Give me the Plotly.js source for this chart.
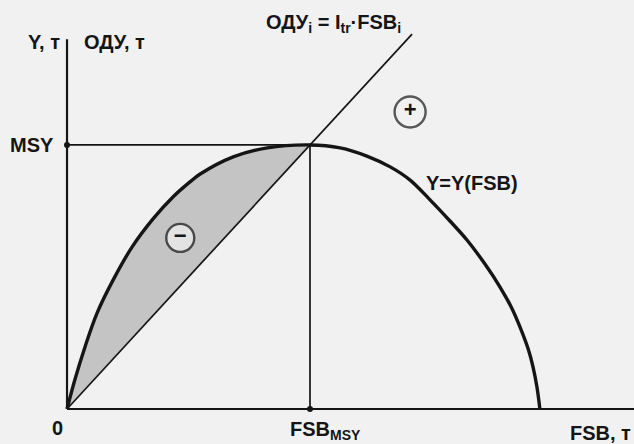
<!DOCTYPE html>
<html>
<head>
<meta charset="utf-8">
<script src="https://cdn.plot.ly/plotly-3.0.1.min.js"></script>
<style>
  html, body { margin: 0; padding: 0; background: #f1f1f1; }
  #chart { width: 634px; height: 444px; }
</style>
</head>
<body>
<div id="chart"></div>
<script>
// Surplus production curve Y = Y(FSB) (yield vs. fishable stock biomass)
const fsb = [0, 1.6, 3.7, 6.2, 9.5, 13.4, 17.7, 21.8, 25.3, 27.4, 34.2, 41.2, 50,
             56.2, 61.7, 66.5, 70.6, 74.7, 78.8, 82.3, 86.0, 89.1, 91.6, 93.2, 94.9, 95.9, 96.7, 97.3];
const yieldY = [0, 11.0, 23.5, 36.4, 48.9, 61.4, 72.0, 80.3, 86.0, 89.0, 95.5, 98.9, 100,
                98.9, 95.8, 91.7, 86.7, 79.2, 71.2, 64.0, 54.9, 46.2, 37.9, 31.1, 22.7, 15.9, 8.3, 0];

// Reference point and catch line ОДУ = I_tr · FSB
const MSY = 100;
const FSB_MSY = 50;
const I_TR = MSY / FSB_MSY;
const lineFsb = [0, 71];
const lineOdu = lineFsb.map(v => v * I_TR);

// Axis extents
const X_END = 117;
const Y_TOP = 140;

// Left branch of the curve (up to FSB_MSY), used for the shaded region
const leftIdx = fsb.findIndex(v => v === FSB_MSY);
const leftX = fsb.slice(0, leftIdx + 1);
const leftY = yieldY.slice(0, leftIdx + 1);

const ink = '#151515';
const paper = '#f1f1f1';
const font = { family: 'Arial, "Liberation Sans", sans-serif', size: 20, color: ink, weight: 'bold' };

const traces = [
  {
    // lower edge of the shaded region: the catch line up to FSB_MSY
    x: [0, FSB_MSY], y: [0, FSB_MSY * I_TR], mode: 'lines',
    line: { width: 0 }, hoverinfo: 'skip'
  },
  {
    x: leftX, y: leftY, mode: 'lines', fill: 'tonexty',
    fillcolor: '#c4c4c4', line: { width: 0, shape: 'spline', smoothing: 1 },
    hoverinfo: 'skip'
  },
  {
    x: lineFsb, y: lineOdu, mode: 'lines',
    line: { color: ink, width: 1.7 }
  },
  {
    x: fsb, y: yieldY, mode: 'lines',
    line: { color: ink, width: 3.4, shape: 'spline', smoothing: 1 }
  },
  {
    x: [0, FSB_MSY], y: [MSY, 0], mode: 'markers',
    marker: { color: ink, size: 6 }
  },
  {
    // sign markers for the surplus (+) and deficit (−) zones
    x: [70.6, 23.3], y: [112.5, 64.8], mode: 'markers+text',
    text: ['+', '−'], textposition: 'middle center',
    textfont: { family: font.family, size: 22, color: ink, weight: 'bold' },
    marker: { symbol: 'circle', size: [31, 28], color: paper, line: { width: 2.4, color: ink } }
  }
];

const line = (x0, y0, x1, y1, w) => ({
  type: 'line', xref: 'x', yref: 'y', x0, y0, x1, y1,
  line: { color: ink, width: w }, layer: 'above'
});

const ann = (x, y, text, xanchor) => ({
  x, y, xref: 'x', yref: 'y', text, showarrow: false,
  xanchor: xanchor || 'center', yanchor: 'middle', font
});

const layout = {
  width: 634, height: 444,
  margin: { l: 0, r: 0, t: 0, b: 0 },
  paper_bgcolor: paper, plot_bgcolor: paper,
  showlegend: false,
  xaxis: { range: [-13.79, 116.67], visible: false, fixedrange: true },
  yaxis: { range: [-13.26, 154.9], visible: false, fixedrange: true },
  shapes: [
    line(0, 0, X_END, 0, 2.2),
    line(0, 0, 0, Y_TOP, 2.2),
    line(0, MSY, FSB_MSY, MSY, 1.7),
    line(FSB_MSY, 0, FSB_MSY, MSY, 1.7)
  ],
  annotations: [
    ann(-1.0, 139, 'Y, т', 'right'),
    ann(3.1, 139, 'ОДУ, т', 'left'),
    ann(-2.3, MSY, 'MSY', 'right'),
    ann(-1.9, -7.2, '0'),
    ann(45.5, -8.0, 'FSB<sub>MSY</sub>', 'left'),
    ann(116.5, -9.1, 'FSB, т', 'right'),
    ann(40.6, 146, 'ОДУ<sub>i</sub> = I<sub>tr</sub>·FSB<sub>i</sub>', 'left'),
    ann(73.5, 85.6, 'Y=Y(FSB)', 'left')
  ]
};

Plotly.newPlot('chart', traces, layout, { staticPlot: true, displayModeBar: false });
</script>
</body>
</html>
